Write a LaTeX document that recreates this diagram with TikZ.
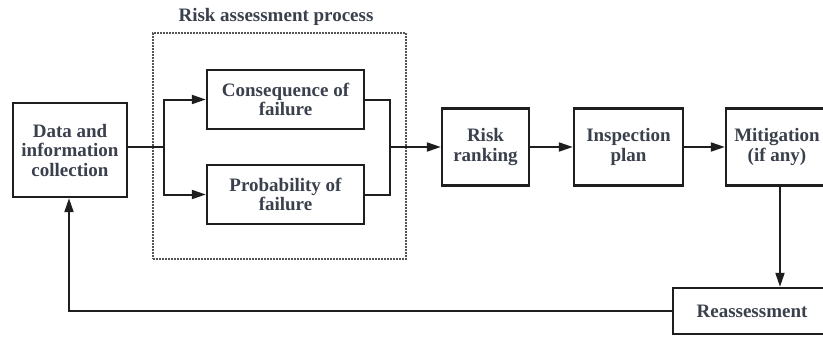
\documentclass[tikz,border=0pt]{standalone}
\usepackage{fontspec}
\setmainfont{Liberation Serif}
\usetikzlibrary{arrows.meta}
\definecolor{linec}{HTML}{1E1E1E}
\definecolor{txt}{HTML}{3A404C}
\definecolor{dashc}{HTML}{555555}
\begin{document}
\begin{tikzpicture}[x=1pt,y=-1pt,
  box/.style={draw=linec, line width=2.4pt, align=center, text=txt,
    font=\bfseries\fontsize{19}{19.5}\selectfont, inner sep=0pt},
  conn/.style={line width=2pt, draw=linec},
  arr/.style={conn, -{Triangle[length=14pt,width=9pt]}},
  grpbox/.style={draw=dashc, line width=1.2pt, dash pattern=on 2pt off 1pt},
  ttl/.style={text=txt, font=\bfseries\fontsize{19}{19.5}\selectfont, inner sep=0pt}]
\useasboundingbox (0,0) rectangle (823,338);
\clip (0,0) rectangle (823,338);
\fill[white] (0,0) rectangle (823,338);
% group
\node[grpbox, minimum width=253pt, minimum height=226pt] (grp) at (279.5,146) {};
\node[ttl] (title) at (276,17) {Risk assessment process};
% boxes
\node[box, minimum width=114pt, minimum height=94pt] (data) at (70,150) {Data and\\information\\collection};
\node[box, minimum width=157pt, minimum height=59pt] (cons) at (285.5,99.5) {Consequence of\\failure};
\node[box, minimum width=157pt, minimum height=59pt] (prob) at (285.5,194.5) {Probability of\\failure};
\node[box, minimum width=87pt, minimum height=77pt] (risk) at (485.5,147) {Risk\\ranking};
\node[box, minimum width=109pt, minimum height=77pt] (insp) at (628.5,147) {Inspection\\plan};
\node[box, minimum width=102pt, minimum height=77pt] (mit) at (777,147) {Mitigation\\(if any)};
\node[box, minimum width=158pt, minimum height=46pt] (re) at (752,311) {Reassessment};
% connectors
\coordinate (s) at (164,147);
\coordinate (m) at (390,147);
\coordinate (v) at (780,0);
\coordinate (fb) at (69,0);
\draw[conn] (data.east |- s) -- (s);
\draw[arr] (s) |- (cons.west);
\draw[arr] (s) |- (prob.west);
\draw[conn] (cons.east) -| (m) |- (prob.east);
\draw[arr] (m) -- (risk.west);
\draw[arr] (risk) -- (insp);
\draw[arr] (insp) -- (mit);
\draw[arr] (mit.south -| v) -- (re.north -| v);
\draw[arr] (re.west) -| (data.south -| fb);
\end{tikzpicture}
\end{document}
